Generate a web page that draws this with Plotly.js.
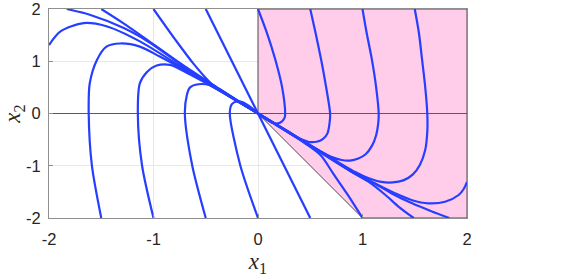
<!DOCTYPE html>
<html><head><meta charset="utf-8">
<script src="https://cdn.plot.ly/plotly-3.0.1.min.js"></script>
<style>html,body{margin:0;padding:0;background:#fff;}#chart{width:565px;height:277px;}</style>
</head><body><div id="chart"></div>
<script>
// axis settings
const axisRange = [-2, 2];
const tickVals = [-2, -1, 0, 1, 2];
const tickText = ['-2', '-1', '0', '1', '2'];

// shaded (pink) region vertices
const regionX = [0, 0, 2, 2, 1, 0];
const regionY = [0, 2, 2, -2, -2, 0];

// trajectories
const t1x = [-1.83, -1.61, -1.29, -1.03, -0.70, -0.36, 0];
const t1y = [2.0, 1.89, 1.64, 1.35, 0.88, 0.45, 0];
const t2x = [-1.50, -1.29, -1.06, -0.70, -0.36, 0];
const t2y = [2.0, 1.73, 1.41, 0.90, 0.46, 0];
const t3x = [-1.0, -0.79, -0.62, -0.45, -0.30, 0];
const t3y = [2.0, 1.41, 0.96, 0.58, 0.37, 0];
const t4x = [-0.5, 0, 0.5];
const t4y = [2.0, 0, -2.0];
const t5x = [-2.0, -1.89, -1.67, -1.45, -1.13, -0.70, -0.36, 0];
const t5y = [1.31, 1.57, 1.73, 1.67, 1.38, 0.85, 0.44, 0];
const t6x = [-1.50, -1.59, -1.62, -1.61, -1.54, -1.45, -1.32, -1.13, -0.94, -0.70, -0.36, 0];
const t6y = [-2.0, -0.99, 0, 0.58, 1.03, 1.28, 1.34, 1.28, 1.09, 0.83, 0.43, 0];
const t7x = [-1.0, -1.11, -1.15, -1.13, -1.06, -0.97, -0.84, -0.70, -0.55, -0.31, 0];
const t7y = [-2.0, -0.99, 0, 0.58, 0.80, 0.92, 0.93, 0.80, 0.64, 0.37, 0];
const t8x = [-0.50, -0.63, -0.70, -0.68, -0.65, -0.57, -0.46, -0.27, 0];
const t8y = [-2.0, -0.99, 0, 0.36, 0.50, 0.56, 0.54, 0.32, 0];
const t9x = [0, -0.17, -0.27, -0.25, -0.20, -0.14, -0.07, 0];
const t9y = [-2.0, -0.99, 0, 0.18, 0.23, 0.21, 0.12, 0];
const t11x = [0, 0.086, 0.166, 0.23, 0.26, 0.255, 0.23, 0.19, 0.14, 0.08, 0];
const t11y = [2.0, 1.54, 1.03, 0.51, 0, -0.08, -0.15, -0.19, -0.18, -0.11, 0];
const t12x = [0.50, 0.55, 0.60, 0.64, 0.69, 0.685, 0.665, 0.62, 0.56, 0.49, 0.42, 0.33, 0.17, 0];
const t12y = [2.0, 1.55, 1.07, 0.64, 0, -0.18, -0.38, -0.49, -0.54, -0.545, -0.50, -0.41, -0.21, 0];
const t13x = [1.0, 1.04, 1.09, 1.13, 1.155, 1.15, 1.13, 1.09, 1.03, 0.96, 0.88, 0.80, 0.70, 0.55, 0.35, 0];
const t13y = [2.0, 1.54, 1.03, 0.51, 0, -0.20, -0.42, -0.62, -0.78, -0.86, -0.90, -0.89, -0.83, -0.67, -0.43, 0];
const t14x = [1.50, 1.54, 1.57, 1.60, 1.62, 1.62, 1.60, 1.55, 1.48, 1.39, 1.29, 1.18, 1.06, 0.93, 0.60, 0.30, 0];
const t14y = [2.0, 1.54, 1.03, 0.51, 0, -0.35, -0.70, -0.98, -1.17, -1.28, -1.32, -1.31, -1.24, -1.12, -0.73, -0.36, 0];
const t15x = [2.0, 1.97, 1.92, 1.79, 1.63, 1.475, 1.315, 1.12, 0.93, 0.60, 0.30, 0];
const t15y = [-1.31, -1.44, -1.56, -1.69, -1.72, -1.66, -1.53, -1.34, -1.15, -0.73, -0.36, 0];
const t16x = [1.83, 1.67, 1.475, 1.28, 1.09, 0.93, 0.60, 0.30, 0];
const t16y = [-2.0, -1.88, -1.72, -1.53, -1.31, -1.15, -0.74, -0.37, 0];
const t17x = [1.49, 1.35, 1.22, 1.06, 0.93, 0.60, 0.30, 0];
const t17y = [-2.0, -1.79, -1.56, -1.31, -1.16, -0.75, -0.37, 0];
const t18x = [1.0, 0.85, 0.72, 0.60, 0.45, 0.25, 0];
const t18y = [-2.0, -1.53, -1.15, -0.80, -0.57, -0.31, 0];

const trajX = [t1x, t2x, t3x, t4x, t5x, t6x, t7x, t8x, t9x, t11x, t12x, t13x, t14x, t15x, t16x, t17x, t18x];
const trajY = [t1y, t2y, t3y, t4y, t5y, t6y, t7y, t8y, t9y, t11y, t12y, t13y, t14y, t15y, t16y, t17y, t18y];

const blue = 'rgb(38,62,255)';
const data = [];
data.push({
  x: regionX, y: regionY, type: 'scatter', mode: 'lines', fill: 'toself',
  fillcolor: 'rgb(255,204,234)', line: {color: '#4a4a4a', width: 1}, hoverinfo: 'skip'
});
// horizontal axis line through x2 = 0
data.push({
  x: axisRange, y: [0, 0], type: 'scatter', mode: 'lines',
  line: {color: '#5a5a5a', width: 1}, hoverinfo: 'skip'
});
for (let i = 0; i < trajX.length; i++) {
  data.push({
    x: trajX[i], y: trajY[i], type: 'scatter', mode: 'lines',
    line: {color: blue, width: 2.2, shape: 'spline', smoothing: 0.8}, hoverinfo: 'skip'
  });
}

const axisCommon = {
  range: axisRange, tickvals: tickVals, ticktext: tickText,
  showgrid: true, gridcolor: '#e8e8e8', gridwidth: 1,
  zeroline: false, showline: true, mirror: true, linecolor: '#8f8f8f', linewidth: 1,
  ticks: 'inside', ticklen: 4, tickcolor: '#8f8f8f',
  ticklabeloverflow: 'allow',
  tickfont: {family: 'Liberation Sans, Arial, sans-serif', size: 16.5, color: '#262626'}
};

const layout = {
  width: 565, height: 277,
  margin: {l: 49, r: 98, t: 9, b: 59},
  showlegend: false,
  paper_bgcolor: '#fff', plot_bgcolor: '#fff',
  xaxis: Object.assign({}, axisCommon, {
    ticklabelstandoff: 6,
    title: {text: '<i>x</i><sub>1</sub>', font: {family: 'Liberation Serif, Times New Roman, serif', size: 23, color: '#262626'}, standoff: 6}
  }),
  yaxis: Object.assign({}, axisCommon, {
    ticklabelstandoff: 4,
    title: {text: '<i>x</i><sub>2</sub>', font: {family: 'Liberation Serif, Times New Roman, serif', size: 23, color: '#262626'}, standoff: 2}
  })
};

Plotly.newPlot('chart', data, layout, {staticPlot: true, displayModeBar: false});
</script>
</body></html>
